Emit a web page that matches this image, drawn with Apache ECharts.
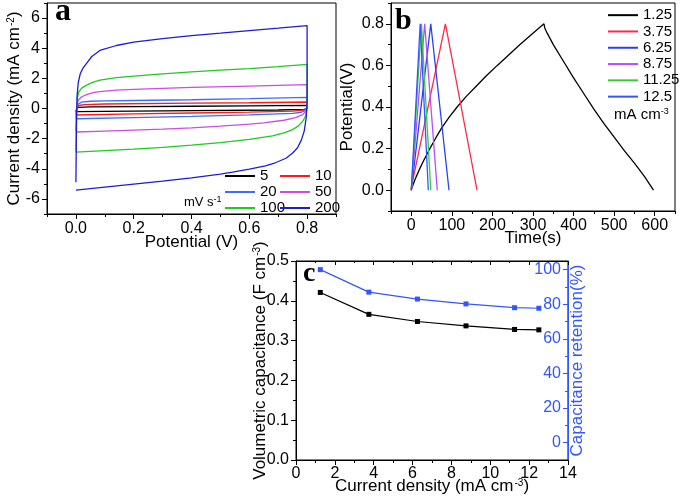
<!DOCTYPE html>
<html><head><meta charset="utf-8">
<script src="https://cdn.jsdelivr.net/npm/echarts@6/dist/echarts.min.js"></script>
<style>html,body{margin:0;padding:0;background:#fff}#c{width:680px;height:497px}</style>
</head><body><div id="c"></div>
<script>
// ---------- Panel a: CV curves [potential V, current density mA cm-2] ----------
const cv5 = [[0,-0.22],[0.003,0],[0.01,0.08],[0.05,0.11],[0.2,0.13],[0.4,0.15],[0.6,0.17],[0.8,0.21],[0.8,0],[0.79,-0.06],[0.7,-0.1],[0.4,-0.14],[0.2,-0.17],[0,-0.21]];
const cv10 = [[0,-0.42],[0.003,0.05],[0.01,0.2],[0.03,0.26],[0.1,0.3],[0.4,0.35],[0.6,0.38],[0.8,0.43],[0.8,0],[0.79,-0.1],[0.75,-0.18],[0.6,-0.24],[0.4,-0.3],[0.2,-0.36],[0,-0.43]];
const cv20 = [[0,-0.66],[0.003,0.1],[0.008,0.3],[0.02,0.42],[0.05,0.48],[0.1,0.5],[0.2,0.53],[0.4,0.58],[0.6,0.65],[0.8,0.74],[0.8,0.1],[0.795,-0.12],[0.78,-0.25],[0.75,-0.32],[0.6,-0.42],[0.4,-0.52],[0.2,-0.6],[0,-0.68]];
const cv50 = [[0,-1.5],[0.002,-0.3],[0.005,0.35],[0.01,0.6],[0.02,0.78],[0.037,0.92],[0.06,1.05],[0.083,1.12],[0.14,1.22],[0.2,1.27],[0.4,1.4],[0.6,1.49],[0.8,1.58],[0.8,0.2],[0.795,-0.2],[0.785,-0.4],[0.76,-0.6],[0.72,-0.78],[0.65,-0.95],[0.6,-1.03],[0.5,-1.17],[0.4,-1.28],[0.3,-1.37],[0.2,-1.44],[0.1,-1.5],[0,-1.56]];
const cv100 = [[0,-2.85],[0.002,-0.5],[0.005,0.7],[0.01,1.1],[0.02,1.35],[0.037,1.55],[0.06,1.75],[0.083,1.88],[0.14,2.05],[0.2,2.15],[0.3,2.3],[0.4,2.43],[0.5,2.54],[0.6,2.65],[0.7,2.78],[0.8,2.93],[0.8,0],[0.795,-0.5],[0.785,-0.85],[0.77,-1.15],[0.75,-1.4],[0.72,-1.62],[0.68,-1.82],[0.6,-2.05],[0.5,-2.27],[0.4,-2.43],[0.3,-2.58],[0.2,-2.7],[0.1,-2.8],[0,-2.9]];
const cv200 = [[0,-4.9],[0.002,-1.0],[0.004,0.8],[0.008,1.7],[0.015,2.3],[0.025,2.7],[0.037,3.0],[0.055,3.45],[0.083,3.85],[0.14,4.18],[0.2,4.4],[0.3,4.63],[0.4,4.84],[0.5,5.0],[0.6,5.17],[0.7,5.33],[0.8,5.5],[0.8,0.5],[0.797,-0.6],[0.79,-1.5],[0.78,-2.1],[0.767,-2.6],[0.75,-2.95],[0.727,-3.3],[0.69,-3.6],[0.656,-3.8],[0.6,-4.02],[0.542,-4.22],[0.5,-4.35],[0.4,-4.6],[0.3,-4.82],[0.2,-5.02],[0.1,-5.22],[0,-5.42]];
const cvNames = ['5','10','20','50','100','200'];

// ---------- Panel b: GCD curves [time s, potential V] ----------
const gcd1_25 = [[0,0],[2,0.015],[5,0.03],[10,0.055],[20,0.1],[30,0.14],[43,0.19],[60,0.25],[75,0.3],[93,0.35],[113,0.4],[135,0.45],[160,0.5],[185,0.55],[212,0.6],[240,0.65],[268,0.7],[297,0.75],[327,0.8],[329,0.78],[335,0.755],[350,0.7],[375,0.62],[400,0.54],[425,0.465],[450,0.39],[475,0.32],[500,0.255],[525,0.19],[550,0.13],[575,0.065],[597,0]];
const gcd3_75 = [[0,0],[2,0.03],[84,0.8],[86,0.78],[162,0]];
const gcd6_25 = [[0,0],[48,0.8],[93,0]];
const gcd8_75 = [[0,0],[33,0.8],[64,0]];
const gcd11_25 = [[0,0],[25,0.8],[48,0]];
const gcd12_5 = [[0,0],[22,0.8],[42,0]];
const gcdNames = ['1.25','3.75','6.25','8.75','11.25','12.5'];

// ---------- Panel c ----------
const currentDensity = [1.25,3.75,6.25,8.75,11.25,12.5];
const volCap = [0.421,0.366,0.348,0.337,0.328,0.327];
const retention = [100,87,83,80.2,78,77.7];

// ---------- Tick values ----------
const aXTicks = [0,0.2,0.4,0.6,0.8], aXMinor = [-0.1,0.1,0.3,0.5,0.7,0.9];
const aYTicks = [-6,-4,-2,0,2,4,6], aYMinor = [-7,-5,-3,-1,1,3,5,7];
const bXTicks = [0,100,200,300,400,500,600], bXMinor = [-50,50,150,250,350,450,550,650];
const bYTicks = [0,0.2,0.4,0.6,0.8], bYMinor = [-0.1,0.1,0.3,0.5,0.7,0.9];
const cRTicks = [0,20,40,60,80,100], cRMinor = [10,30,50,70,90];

const FONT = 'Liberation Sans';
const BLUE = '#3355ff';
const supRich = {sup:{fontSize:10, fontFamily:FONT, verticalAlign:'top', lineHeight:10, padding:[0,0,0,1]}};

function majorAxis(grid, pos, min, max, ticks, fmt, name, gap, color){
  color = color || '#000';
  return {
    type:'value', gridIndex:grid, position:pos, min:min, max:max,
    splitLine:{show:false},
    axisLine:{show:true, onZero:false, lineStyle:{color:color, width:1}},
    axisTick:{show:true, length:5, customValues:ticks, lineStyle:{color:color}},
    axisLabel:{show:true, customValues:ticks, formatter:fmt, color:color, fontSize:16, fontFamily:FONT, margin:7},
    name:name, nameLocation:'middle', nameGap:gap, nameMoveOverlap:false,
    nameTextStyle:{color:color, fontSize:17, fontFamily:FONT, rich:supRich}
  };
}
function minorAxis(grid, pos, min, max, ticks, color, inside){
  color = color || '#000';
  return {
    type:'value', gridIndex:grid, position:pos, min:min, max:max,
    splitLine:{show:false},
    axisLine:{show:false, onZero:false},
    axisTick:{show:true, inside:!!inside, length:3, customValues:ticks, lineStyle:{color:color}},
    axisLabel:{show:false}
  };
}
const f1 = v => v.toFixed(1);
const f0 = v => String(v);

const xAxis = [
  majorAxis(0,'bottom',-0.1,0.9,aXTicks,f1,'Potential (V)',20),
  minorAxis(0,'bottom',-0.1,0.9,aXMinor),
  majorAxis(1,'bottom',-50,650,bXTicks,f0,'Time(s)',19),
  minorAxis(1,'bottom',-50,650,bXMinor),
  {type:'value', gridIndex:2, position:'bottom', min:0, max:14, interval:2,
   splitLine:{show:false}, axisLine:{onZero:false, lineStyle:{color:'#000'}},
   axisTick:{length:5, lineStyle:{color:'#000'}}, minorTick:{show:true, splitNumber:2, length:3, lineStyle:{color:'#000'}},
   axisLabel:{color:'#000', fontSize:16, fontFamily:FONT, margin:6},
   name:'Current density (mA cm{sup|-3})', nameLocation:'middle', nameGap:18, nameMoveOverlap:false,
   nameTextStyle:{color:'#000', fontSize:17, fontFamily:FONT, rich:supRich}},
  {type:'value', gridIndex:2, position:'top', min:0, max:14, interval:2,
   splitLine:{show:false}, axisLine:{onZero:false, lineStyle:{color:'#000'}},
   axisTick:{inside:true, length:4, lineStyle:{color:'#000'}}, minorTick:{show:true, splitNumber:2, length:2, lineStyle:{color:'#000'}},
   axisLabel:{show:false}}
];
const yAxis = [
  majorAxis(0,'left',-7,7,aYTicks,f0,'Current density (mA cm{sup|-2})',24),
  minorAxis(0,'left',-7,7,aYMinor),
  majorAxis(1,'left',-0.1,0.9,bYTicks,f1,'Potential(V)',35),
  minorAxis(1,'left',-0.1,0.9,bYMinor),
  {type:'value', gridIndex:2, position:'left', min:0, max:0.5, interval:0.1,
   splitLine:{show:false}, axisLine:{onZero:false, lineStyle:{color:'#000'}},
   axisTick:{length:5, lineStyle:{color:'#000'}}, minorTick:{show:true, splitNumber:2, length:3, lineStyle:{color:'#000'}},
   axisLabel:{color:'#000', fontSize:16, fontFamily:FONT, margin:7, formatter:f1},
   name:'Volumetric capacitance (F cm{sup|-3})', nameLocation:'middle', nameGap:27, nameMoveOverlap:false,
   nameTextStyle:{color:'#000', fontSize:17, fontFamily:FONT, rich:supRich}},
  {type:'value', gridIndex:2, position:'right', min:-10, max:105,
   splitLine:{show:false}, axisLine:{show:true, onZero:false, lineStyle:{color:BLUE}},
   axisTick:{show:true, inside:true, length:5, customValues:cRTicks, lineStyle:{color:BLUE}},
   axisLabel:{show:true, inside:true, customValues:cRTicks, color:BLUE, fontSize:16, fontFamily:FONT, margin:7},
   name:'Capacitance retention(%)', nameLocation:'middle', nameGap:1, nameMoveOverlap:false,
   nameTextStyle:{color:BLUE, fontSize:17, fontFamily:FONT}},
  minorAxis(2,'right',-10,105,cRMinor,BLUE,true)
];

const cvColors = ['#000000','#ff1a1a','#3d6cff','#c84fe0','#1ecb1e','#1c1cd6'];
const gcdColors = ['#000000','#ff2a4a','#2a3cff','#b84cff','#33cc33','#3355ff'];
const cvData = [cv5,cv10,cv20,cv50,cv100,cv200];
const gcdData = [gcd1_25,gcd3_75,gcd6_25,gcd8_75,gcd11_25,gcd12_5];

const series = [];
cvNames.forEach((n,i)=>series.push({name:n, type:'line', xAxisIndex:0, yAxisIndex:0, data:cvData[i], symbol:'none', color:cvColors[i], lineStyle:{color:cvColors[i], width:1.3}, z:2+i}));
gcdNames.forEach((n,i)=>series.push({name:n, type:'line', xAxisIndex:2, yAxisIndex:2, data:gcdData[i], symbol:'none', color:gcdColors[i], lineStyle:{color:gcdColors[i], width:1.3}}));
series.push({name:'Volumetric capacitance', type:'line', xAxisIndex:4, yAxisIndex:4, data:currentDensity.map((x,i)=>[x,volCap[i]]), symbol:'rect', symbolSize:5, color:'#000', lineStyle:{color:'#000', width:1.2}, itemStyle:{color:'#000'}});
series.push({name:'Capacitance retention', type:'line', xAxisIndex:4, yAxisIndex:5, data:currentDensity.map((x,i)=>[x,retention[i]]), symbol:'rect', symbolSize:5, color:BLUE, lineStyle:{color:BLUE, width:1.2}, itemStyle:{color:BLUE}});

const legendBase = {orient:'vertical', icon:'rect', itemWidth:30, itemHeight:2, itemGap:0, padding:0,
  textStyle:{color:'#000', fontSize:15, fontFamily:FONT, lineHeight:16}, selectedMode:false};

const option = {
  animation:false,
  backgroundColor:'#fff',
  grid:[
    {left:47, top:3, width:289, height:211, show:true, borderColor:'#000', borderWidth:1, outerBoundsMode:'none', containLabel:false},
    {left:391, top:3, width:284, height:208, show:true, borderColor:'#000', borderWidth:1, outerBoundsMode:'none', containLabel:false},
    {left:296, top:261, width:272, height:199, show:true, borderColor:'#000', borderWidth:1, outerBoundsMode:'none', containLabel:false}
  ],
  xAxis:xAxis, yAxis:yAxis, series:series,
  legend:[
    Object.assign({}, legendBase, {data:['5','20','100'], left:225, top:168}),
    Object.assign({}, legendBase, {data:['10','50','200'], left:280, top:168}),
    Object.assign({}, legendBase, {data:gcdNames, left:608, top:7, textStyle:{color:'#000', fontSize:15, fontFamily:FONT, lineHeight:16.3}})
  ],
  graphic:[
    {type:'text', x:55, y:12, style:{text:'a', font:'bold 32px "Liberation Serif"', fill:'#000', verticalAlign:'middle'}},
    {type:'text', x:395, y:21, style:{text:'b', font:'bold 30px "Liberation Serif"', fill:'#000', verticalAlign:'middle'}},
    {type:'text', x:303, y:274, style:{text:'c', font:'bold 28px "Liberation Serif"', fill:'#000', verticalAlign:'middle'}},
    {type:'text', x:184, y:202, style:{text:'mV s{sup|-1}', fontSize:13, fontFamily:FONT, fill:'#000', verticalAlign:'middle', rich:{sup:{fontSize:9, fontFamily:FONT, verticalAlign:'top', lineHeight:9}}}},
    {type:'text', x:614, y:115, style:{text:'mA cm{sup|-3}', fontSize:15, fontFamily:FONT, fill:'#000', verticalAlign:'middle', rich:{sup:{fontSize:9, fontFamily:FONT, verticalAlign:'top', lineHeight:9}}}}
  ]
};
const chart = echarts.init(document.getElementById('c'), null, {renderer:'canvas'});
chart.setOption(option);
</script></body></html>
